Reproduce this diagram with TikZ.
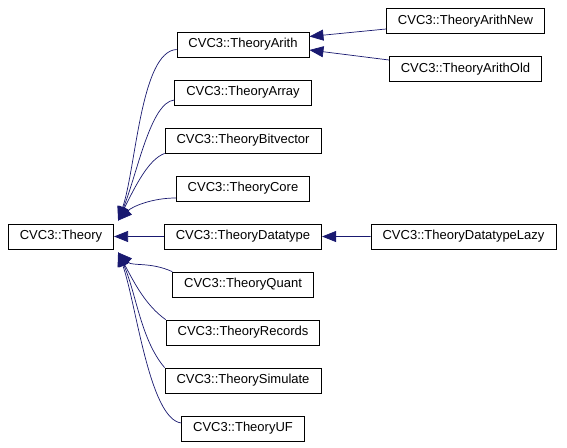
\documentclass[tikz,border=0pt]{standalone}
\usepackage{fontspec}
\setmainfont{Liberation Sans}
\usetikzlibrary{arrows.meta,positioning}
\definecolor{edgeblue}{HTML}{191970}

\begin{document}
\begin{tikzpicture}[
  x=1pt,y=-1pt,
  font=\fontsize{13}{15}\selectfont,
  cls/.style={draw=black,fill=white,line width=0.8pt,
    minimum height=25pt,inner xsep=11.5pt,inner ysep=0pt},
  inherit/.style={draw=edgeblue,line width=0.7pt,
    -{Triangle[length=14pt,width=11pt]}}
]
  \useasboundingbox[fill=white] (0,0) rectangle (567,447);

  \node[cls] (theory) at (61,236.5) {CVC3::Theory};

  \node[cls] (arith) at (243,44.5) {CVC3::TheoryArith};
  \node[cls,below=22.2pt of arith] (array) {CVC3::TheoryArray};
  \node[cls,below=22.2pt of array] (bitvector) {CVC3::TheoryBitvector};
  \node[cls,below=22.2pt of bitvector] (core) {CVC3::TheoryCore};
  \node[cls,below=22.2pt of core] (datatype) {CVC3::TheoryDatatype};
  \node[cls,below=22.2pt of datatype] (quant) {CVC3::TheoryQuant};
  \node[cls,below=22.2pt of quant] (records) {CVC3::TheoryRecords};
  \node[cls,below=22.2pt of records] (simulate) {CVC3::TheorySimulate};
  \node[cls,below=22.2pt of simulate] (uf) {CVC3::TheoryUF};

  \node[cls] (arithnew) at (465.5,21) {CVC3::TheoryArithNew};
  \node[cls,below=22.2pt of arithnew] (arithold) {CVC3::TheoryArithOld};
  \node[cls] (lazy) at (463.5,236.5) {CVC3::TheoryDatatypeLazy};

  % arrow ends at the corners of the base class
  \coordinate (upin) at ([xshift=4pt,yshift=3pt]theory.north east);
  \coordinate (lowin) at ([xshift=4pt,yshift=-3pt]theory.south east);

  \draw[inherit] ([yshift=-8pt]arithnew.west) -- ([yshift=8pt]arith.east);
  \draw[inherit] ([yshift=9pt]arithold.west) -- ([yshift=-5.5pt]arith.east);
  \draw[inherit] (lazy.west) -- (datatype.east);

  \draw[inherit] ([yshift=-5pt]arith.west) .. controls +(-36,2) and +(18,-52) .. (upin);
  \draw[inherit] ([yshift=-7.5pt]array.west) .. controls +(-24,2) and +(19,-46) .. (upin);
  \draw[inherit] (bitvector.south west) .. controls +(-16,6) and +(18,-36) .. (upin);
  \draw[inherit] ([yshift=-9.5pt]core.west) .. controls +(-24,0) and +(14,-14) .. (upin);
  \draw[inherit] (datatype.west) -- (theory.east);
  \draw[inherit] (quant.north west) .. controls +(-22,-10) and +(14,14) .. (lowin);
  \draw[inherit] (records.north west) .. controls +(-20,-14) and +(16,30) .. (lowin);
  \draw[inherit] (simulate.north west) .. controls +(-24,-28) and +(18,40) .. (lowin);
  \draw[inherit] ([yshift=5.5pt]uf.west) .. controls +(-32,-4) and +(18,50) .. (lowin);
\end{tikzpicture}
\end{document}
